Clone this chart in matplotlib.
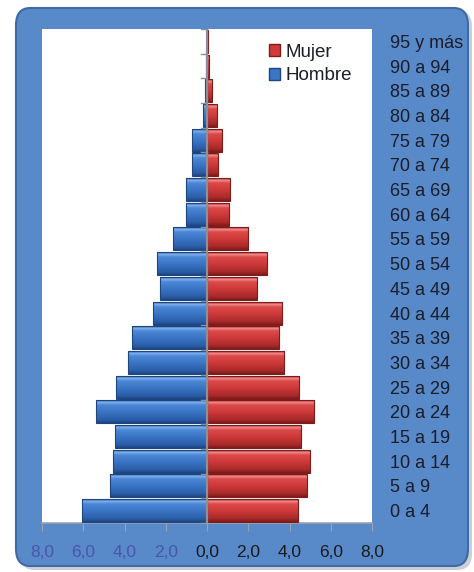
import numpy as np
import matplotlib
matplotlib.use("Agg")
import matplotlib.pyplot as plt
from matplotlib.colors import LinearSegmentedColormap
from matplotlib.patches import FancyBboxPatch, Patch

plt.rcParams['font.family'] = ['Liberation Sans', 'DejaVu Sans']

# age groups, bottom to top
grupos = ["0 a 4", "5 a 9", "10 a 14", "15 a 19", "20 a 24", "25 a 29", "30 a 34",
          "35 a 39", "40 a 44", "45 a 49", "50 a 54", "55 a 59", "60 a 64", "65 a 69",
          "70 a 74", "75 a 79", "80 a 84", "85 a 89", "90 a 94", "95 y más"]
hombre = [6.08, 4.70, 4.58, 4.48, 5.39, 4.42, 3.85, 3.64, 2.60, 2.28,
          2.41, 1.67, 1.02, 1.02, 0.74, 0.74, 0.20, 0.08, 0.05, 0.02]
mujer = [4.40, 4.84, 4.97, 4.55, 5.19, 4.48, 3.74, 3.51, 3.66, 2.44,
         2.90, 2.00, 1.08, 1.12, 0.52, 0.74, 0.47, 0.24, 0.10, 0.03]
xticks = [-8, -6, -4, -2, 0, 2, 4, 6, 8]

W, H = 474, 572
fig = plt.figure(figsize=(W / 100, H / 100), dpi=100)
fig.patch.set_facecolor("white")

# rounded blue frame with a soft shadow
shadow = FancyBboxPatch((20 / W, 2 / H), 452 / W, 560 / H,
                        boxstyle="round,pad=0,rounding_size=0.03",
                        transform=fig.transFigure, facecolor="#9aa3ad",
                        edgecolor="none", alpha=0.5, zorder=-2)
frame = FancyBboxPatch((16 / W, 6 / H), 452 / W, 558 / H,
                       boxstyle="round,pad=0,rounding_size=0.03",
                       transform=fig.transFigure, facecolor="#5889c8",
                       edgecolor="#3f6aa6", linewidth=1.5, zorder=-1)
fig.patches.extend([shadow, frame])

ax = fig.add_axes([42 / W, 49 / H, 330 / W, 494 / H])
ax.set_facecolor("white")

y = np.arange(len(grupos))

# vertical gradients (bottom -> top) to mimic the bevelled 3D bars
azul = LinearSegmentedColormap.from_list(
    "azul", [(0, "#1d4684"), (0.15, "#2b5ea8"), (0.5, "#3b76c6"),
             (0.8, "#4c88d6"), (0.9, "#7eb0ec"), (1, "#3d70b8")])
rojo = LinearSegmentedColormap.from_list(
    "rojo", [(0, "#7f1a1a"), (0.15, "#a82a2a"), (0.5, "#cf3a3a"),
             (0.8, "#dc4a4a"), (0.9, "#f08c8c"), (1, "#b83232")])
grad = np.linspace(0, 1, 64).reshape(-1, 1)


def bevel_bars(values, sign, cmap, edge):
    bars = ax.barh(y, sign * np.array(values), height=0.93, facecolor="none",
                   edgecolor=edge, linewidth=0.8, zorder=3)
    for r in bars:
        x0, w = r.get_x(), r.get_width()
        y0, hh = r.get_y(), r.get_height()
        im = ax.imshow(grad, cmap=cmap, aspect="auto", origin="lower",
                       extent=(x0, x0 + w, y0, y0 + hh), zorder=2)
        im.set_clip_path(r)
    return bars


bevel_bars(hombre, -1, azul, "#1e4580")
bevel_bars(mujer, 1, rojo, "#7e1c1c")

# central axis with small category ticks
ax.axvline(0, color="#8a8f98", linewidth=1.6, zorder=5)
bounds = np.arange(len(grupos) + 1) - 0.5
for b in bounds:
    ax.plot([-0.3, 0], [b, b], color="#8a8f98", linewidth=1, zorder=5)

ax.set_xlim(-8, 8)
ax.set_ylim(-0.5, len(grupos) - 0.5)

ax.set_xticks(xticks)
ax.set_xticklabels([f"{abs(v):.1f}".replace(".", ",") for v in xticks], fontsize=12.5)
for lab, v in zip(ax.get_xticklabels(), xticks):
    lab.set_color("#4b55ad" if v < 0 else "#1a1a1a")
ax.tick_params(axis="x", length=6, color="#9aa3b0", pad=10)

ax.yaxis.tick_right()
ax.set_yticks(y)
ax.set_yticklabels(grupos, fontsize=13, color="#1b1d2a")
ax.tick_params(axis="y", length=0, pad=13)

for s in ["top", "left", "right"]:
    ax.spines[s].set_visible(False)
ax.spines["bottom"].set_color("#9aa3b0")
ax.spines["bottom"].set_linewidth(1.2)

handles = [Patch(facecolor="#cf3a3a", edgecolor="#7e1c1c"),
           Patch(facecolor="#3b76c6", edgecolor="#1e4580")]
leg = ax.legend(handles, ["Mujer", "Hombre"], loc="upper left",
                bbox_to_anchor=(0.665, 0.985), frameon=False, fontsize=13.5,
                handlelength=0.6, handleheight=0.6, handletextpad=0.3,
                labelspacing=0.35, borderaxespad=0)
for t in leg.get_texts():
    t.set_color("#1b1d2a")

fig.savefig("out.png", dpi=100, facecolor="white")
